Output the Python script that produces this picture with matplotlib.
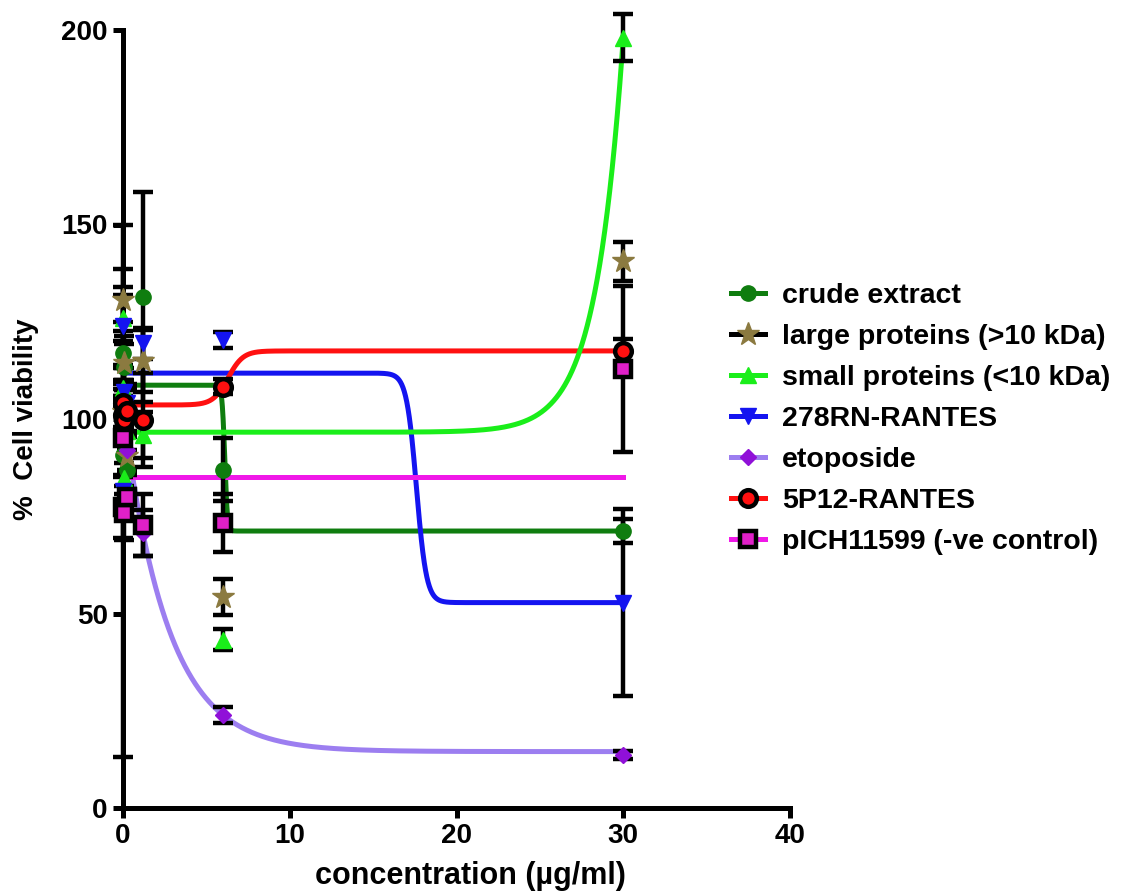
import numpy as np
import matplotlib
matplotlib.use("Agg")
import matplotlib.pyplot as plt
from matplotlib.lines import Line2D

plt.rcParams['font.family'] = ['Liberation Sans', 'DejaVu Sans']
plt.rcParams['font.weight'] = 'bold'

# concentrations (µg/ml), five-fold dilution series
conc = [0.00192, 0.0096, 0.048, 0.24, 1.2, 6, 30]

labels = ["crude extract", "large proteins (>10 kDa)", "small proteins (<10 kDa)",
          "278RN-RANTES", "etoposide", "5P12-RANTES", "pICH11599 (-ve control)"]

crude_mean = [90.7, 117.0, 113.4, 86.9, 131.4, 87.0, 71.2]
crude_err = [5, 8, 6, 5, 27, 8, 3]
large_mean = [101.8, 130.6, 114.4, 90.5, 115.0, 54.2, 140.6]
large_err = [6, 8, 7, 5, 8, 4.6, 5]
small_mean = [108.0, 126.0, 84.8, 97.0, 95.9, 43.2, 198.0]
small_err = [5, 6, 4, 5, 6, 2.7, 6]
rn278_mean = [81.5, 124.0, 107.0, 104.0, 119.5, 120.3, 52.8]
rn278_err = [68.5, 10, 6, 5, 4, 2, 24]
etop_mean = [101.0, 99.0, 104.0, 92.0, 70.7, 23.9, 13.6]
etop_err = [5, 4, 6, 5, 6, 2, 1]
p512_mean = [104.0, 101.0, 99.7, 102.0, 99.7, 108.3, 117.5]
p512_err = [6, 5, 4, 6, 12, 2, 3]
pich_mean = [77.4, 95.0, 75.8, 80.0, 72.8, 73.3, 112.8]
pich_err = [8, 10, 7, 6, 8, 7.5, 21.4]

# fitted curve parameters
crude_fit = (108.7, 71.2, 6.1, 0.08)      # left plateau, right plateau, midpoint, width
rn278_fit = (111.8, 52.8, 17.6, 0.30)
p512_fit = (103.6, 117.5, 6.3, 0.45)
small_fit = (96.6, 101.4, 1.65)           # baseline, rise at x=30, scale
etop_fit = (102.0, 14.5, 0.372)           # top, bottom, rate
pich_fit = (85.1, 0.4)                    # plateau, first x


def step(x, p):
    a, b, x0, w = p
    return a + (b - a) / (1 + np.exp(-(x - x0) / w))


fig = plt.figure(figsize=(11.25, 8.93), dpi=100)
ax = fig.add_axes([123 / 1125, 1 - 808 / 893, (790 - 123) / 1125, (808 - 30) / 893])

xs = np.linspace(0, 30, 2000)
lw = 3.6
ax.plot(xs, step(xs, crude_fit), color="#0f7d0f", lw=lw, zorder=2)
ax.plot(xs, step(xs, rn278_fit), color="#1414f0", lw=lw, zorder=2)
ax.plot(xs, step(xs, p512_fit), color="#ff1010", lw=lw, zorder=2)
ax.plot(xs, small_fit[0] + small_fit[1] * np.exp((xs - 30) / small_fit[2]),
        color="#1aee1a", lw=lw, zorder=2)
ax.plot(xs, etop_fit[1] + (etop_fit[0] - etop_fit[1]) * np.exp(-etop_fit[2] * xs),
        color="#9c7ef0", lw=lw, zorder=2)
xp = np.linspace(pich_fit[1], 30, 10)
ax.plot(xp, np.full_like(xp, pich_fit[0]), color="#f018e8", lw=lw, zorder=2)

series = [
    (crude_mean, crude_err, dict(marker='o', ms=11, mfc="#0f7d0f", mec="#0f7d0f", mew=1)),
    (large_mean, large_err, dict(marker='*', ms=17, mfc="#8b7a40", mec="#8b7a40", mew=1)),
    (small_mean, small_err, dict(marker='^', ms=11, mfc="#1aee1a", mec="#1aee1a", mew=1)),
    (rn278_mean, rn278_err, dict(marker='v', ms=11, mfc="#1414f0", mec="#1414f0", mew=1)),
    (etop_mean, etop_err, dict(marker='D', ms=8, mfc="#9010d8", mec="#9010d8", mew=1)),
    (p512_mean, p512_err, dict(marker='o', ms=12, mfc="#ff1010", mec="black", mew=3.2)),
    (pich_mean, pich_err, dict(marker='s', ms=11, mfc="#e020c8", mec="black", mew=3.2)),
]

for mean, err, style in series:
    ax.errorbar(conc, mean, yerr=err, fmt='none', ecolor='black', elinewidth=3.2,
                capsize=7, capthick=3.2, zorder=3, clip_on=False)
for mean, err, style in series:
    ax.plot(conc, mean, ls='none', zorder=4, clip_on=False, **style)

ax.set_xlim(0, 40)
ax.set_ylim(0, 200)
ax.set_xticks([0, 10, 20, 30, 40])
ax.set_yticks([0, 50, 100, 150, 200])
for side in ['top', 'right']:
    ax.spines[side].set_visible(False)
for side in ['left', 'bottom']:
    ax.spines[side].set_linewidth(3.6)
ax.tick_params(axis='both', direction='out', length=7, width=3.6, labelsize=20, pad=4)
for t in ax.get_xticklabels() + ax.get_yticklabels():
    t.set_fontweight('bold')

ax.set_xlabel("concentration (µg/ml)", fontsize=22, fontweight='bold')
ax.xaxis.set_label_coords(0.521, -0.068)
ax.set_ylabel("%  Cell viability", fontsize=20, fontweight='bold', labelpad=16)

line_colors = ["#0f7d0f", "black", "#1aee1a", "#1414f0", "#9c7ef0", "#ff1010", "#f018e8"]
handles = []
for (mean, err, style), c in zip(series, line_colors):
    handles.append(Line2D([0], [0], color=c, lw=lw, **style))
fig.legend(handles, labels, loc='upper left', bbox_to_anchor=(0.627, 0.712),
           frameon=False, handlelength=1.2, handletextpad=0.6,
           labelspacing=0.53, prop={'weight': 'bold', 'size': 20.5})

fig.savefig("out.png", dpi=100)
